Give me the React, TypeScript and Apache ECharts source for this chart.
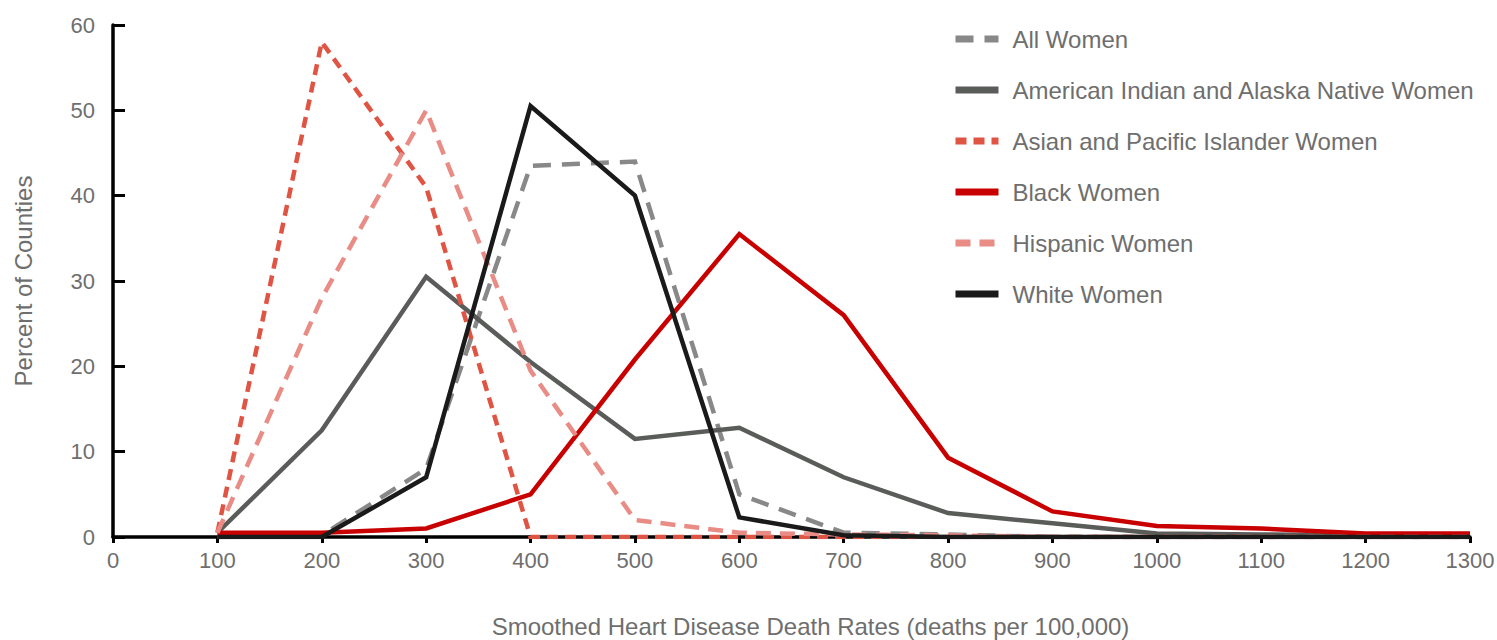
import React, { useEffect, useRef } from "react";
import * as echarts from "echarts";

const deathRates = [100, 200, 300, 400, 500, 600, 700, 800, 900, 1000, 1100, 1200, 1300];
const allWomen = [0, 0.2, 8, 43.5, 44, 5, 0.5, 0.3, 0, 0, 0, 0, 0];
const aianWomen = [0.5, 12.5, 30.5, 20.5, 11.5, 12.8, 7, 2.8, 1.6, 0.4, 0.3, 0.2, 0.1];
const asianWomen = [0.5, 58, 41, 0, 0, 0, 0, 0, 0, 0, 0, 0, 0];
const blackWomen = [0.5, 0.5, 1, 5, 20.8, 35.5, 26, 9.3, 3, 1.3, 1, 0.4, 0.4];
const hispanicWomen = [0.5, 28, 50, 19.5, 2, 0.5, 0.3, 0.2, 0, 0, 0, 0, 0];
const whiteWomen = [0, 0, 7, 50.5, 40, 2.3, 0.2, 0, 0, 0, 0, 0, 0];

const seriesNames = [
  "All Women",
  "American Indian and Alaska Native Women",
  "Asian and Pacific Islander Women",
  "Black Women",
  "Hispanic Women",
  "White Women",
];

const xTitle = "Smoothed Heart Disease Death Rates (deaths per 100,000)";
const yTitle = "Percent of Counties";

const FONT = "'Liberation Sans', Arial, sans-serif";
const TEXT = "#6e6e6e";

export default function App() {
  const ref = useRef<HTMLDivElement>(null);
  useEffect(() => {
    if (!ref.current) return;
    const chart = echarts.init(ref.current, null, { renderer: "svg" });
    const pair = (vals: number[]) => deathRates.map((x, i) => [x, vals[i]]);
    const mk = (name: string, vals: number[], color: string, type: any) => ({
      name,
      type: "line",
      data: pair(vals),
      symbol: "none",
      lineStyle: { color, width: 4.5, type, cap: "butt", join: "miter" },
      itemStyle: { color },
    });
    chart.setOption({
      animation: false,
      textStyle: { fontFamily: FONT },
      grid: { left: 113, right: 27, top: 25, bottom: 103, outerBoundsMode: "none", containLabel: false },
      legend: {
        orient: "vertical",
        left: 947,
        top: 22,
        itemWidth: 43,
        itemHeight: 14,
        itemGap: 27,
        lineStyle: { width: 7 },
        itemStyle: { opacity: 0 },
        textStyle: {
          fontSize: 24,
          color: TEXT,
          fontFamily: FONT,
          lineHeight: 24,
          padding: [0, 0, 0, 9],
        },
        data: seriesNames,
      },
      xAxis: {
        type: "value",
        min: 0,
        max: 1300,
        interval: 100,
        name: xTitle,
        nameLocation: "middle",
        nameGap: 77,
        nameTextStyle: { fontSize: 24, color: TEXT, fontFamily: FONT, padding: [0, 0, 0, 38] },
        axisLine: { lineStyle: { color: "#000", width: 3.5 } },
        axisTick: { show: true, inside: false, length: 6, lineStyle: { color: "#000", width: 3 } },
        axisLabel: { fontSize: 22, color: TEXT, margin: 12, fontFamily: FONT, formatter: (v: number) => String(v) },
        splitLine: { show: false },
      },
      yAxis: {
        type: "value",
        min: 0,
        max: 60,
        interval: 10,
        name: yTitle,
        nameLocation: "middle",
        nameGap: 78,
        nameTextStyle: { fontSize: 24, color: TEXT, fontFamily: FONT },
        axisLine: { show: true, lineStyle: { color: "#000", width: 3.5 } },
        axisTick: { show: true, inside: true, length: 12, lineStyle: { color: "#000", width: 3 } },
        axisLabel: { fontSize: 22, color: TEXT, margin: 18, fontFamily: FONT },
        splitLine: { show: false },
      },
      series: [
        mk(seriesNames[0], allWomen, "#888888", [18, 11]),
        mk(seriesNames[1], aianWomen, "#5a5c5a", "solid"),
        mk(seriesNames[2], asianWomen, "#e05444", [11, 7]),
        mk(seriesNames[3], blackWomen, "#c80000", "solid"),
        mk(seriesNames[4], hispanicWomen, "#e88c85", [15, 9]),
        mk(seriesNames[5], whiteWomen, "#1a1a1a", "solid"),
      ],
    });
    return () => chart.dispose();
  }, []);
  return (
    <div
      ref={ref}
      style={{ position: "fixed", left: 0, top: 0, width: 1497, height: 640, background: "#fff" }}
    />
  );
}
